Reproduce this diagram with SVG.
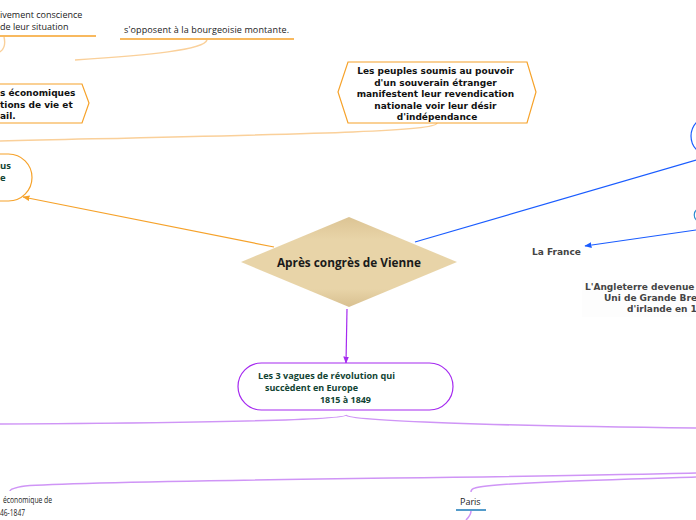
<svg xmlns="http://www.w3.org/2000/svg" width="696" height="520" viewBox="0 0 696 520">
<defs>
<style>
.bold9{font-family:"DejaVu Sans",Verdana,sans-serif;font-weight:bold;font-size:9px;fill:#111}
.plain{font-family:"Open Sans","Liberation Sans",sans-serif;font-size:9px;fill:#222}
.green{font-family:"Open Sans","Liberation Sans",sans-serif;font-weight:bold;font-size:9.5px;fill:#114433}
.gray{font-family:"DejaVu Sans",Verdana,sans-serif;font-weight:bold;font-size:9px;fill:#444}
.or{fill:none;stroke:#f6a22a;stroke-width:1.2}
.orf{fill:none;stroke:#fad09a;stroke-width:1.5}
.bl{fill:none;stroke:#1a5cff;stroke-width:1.2}
.pu{fill:none;stroke:#a52af0;stroke-width:1.2}
.puf{fill:none;stroke:#cf95f6;stroke-width:1.5}
</style>
<marker id="aO" viewBox="0 0 10 10" refX="9" refY="5" markerWidth="6" markerHeight="6" orient="auto"><path d="M0,1 L10,5 L0,9 z" fill="#f6a22a"/></marker>
<marker id="aB" viewBox="0 0 10 10" refX="9" refY="5" markerWidth="6" markerHeight="6" orient="auto"><path d="M0,1 L10,5 L0,9 z" fill="#1a5cff"/></marker>
<marker id="aP" viewBox="0 0 10 10" refX="9" refY="5" markerWidth="6" markerHeight="6" orient="auto"><path d="M0,1 L10,5 L0,9 z" fill="#a52af0"/></marker>
<linearGradient id="dg" x1="0" y1="0" x2="0" y2="1"><stop offset="0" stop-color="#dcc494"/><stop offset="0.25" stop-color="#e8d4a8"/><stop offset="0.8" stop-color="#e8d4a8"/><stop offset="1" stop-color="#d8c090"/></linearGradient>
</defs>
<rect width="696" height="520" fill="#fff"/>
<g id="connectors">
<path class="orf" d="M4,37 C6,45 3,50 0,52"/>
<path class="orf" d="M207,40 C204,50 150,55 75,60"/>
<path class="orf" d="M437,123 C436,132 300,134 0,141"/>
<path class="or" d="M274,247 L23,197" marker-end="url(#aO)"/>
<path class="bl" d="M415,242 L696,160"/>
<path class="bl" d="M696,230 L585,246" marker-end="url(#aB)"/>
<path class="pu" d="M347,309 L346,363" marker-end="url(#aP)"/>
<path class="puf" d="M346,415 C346,420 200,423 0,424"/>
<path class="puf" d="M346,415 C348,421 500,426 696,428"/>
<path class="puf" d="M696,473 C500,478 100,480 25,486 C12,488 10,490 10,491"/>
<path class="puf" d="M696,477 C600,480 490,483 475,488 C471,489 471,491 471,492"/>
<path class="puf" d="M471,511 C471,515 469,517 466,520"/>
</g>
<g id="n-conscience">
<text class="plain" x="0" y="18">ivement conscience</text>
<text class="plain" x="0" y="30">de leur situation</text>
<line x1="0" y1="36" x2="96" y2="36" stroke="#f6a22a" stroke-width="1.5"/>
</g>
<g id="n-bourgeoisie">
<text class="plain" x="124" y="33" textLength="165" lengthAdjust="spacing">s'opposent à la bourgeoisie montante.</text>
<line x1="120" y1="39" x2="294" y2="39" stroke="#f6a22a" stroke-width="1.5"/>
</g>
<g id="n-economiques">
<path d="M-10,84 L82,84 L89,103 L82,123 L-10,123" fill="#fff" stroke="#f6a22a" stroke-width="1.2"/>
<text class="bold9" x="0" y="96">s économiques</text>
<text class="bold9" x="0" y="108">tions de vie et</text>
<text class="bold9" x="0" y="119">ail.</text>
</g>
<g id="n-peuples">
<path d="M348,62 L527,62 L536,92 L527,123 L348,123 L338,92 Z" fill="#fff" stroke="#f6a22a" stroke-width="1.2"/>
<text class="bold9" text-anchor="middle">
<tspan x="437" y="74">Les peuples soumis au pouvoir</tspan>
<tspan x="437" y="85.5">d'un souverain étranger</tspan>
<tspan x="437" y="97">manifestent leur revendication</tspan>
<tspan x="437" y="108.5">nationale voir leur désir</tspan>
<tspan x="437" y="120">d'indépendance</tspan>
</text>
</g>
<g id="n-left-round">
<rect x="-40" y="154" width="72" height="47" rx="23.5" fill="#fff" stroke="#f6a22a" stroke-width="1.2"/>
<text class="green" x="0" y="169">us</text>
<text class="green" x="0" y="181">e</text>
</g>
<g id="n-center">
<path d="M349,217 L457,262 L349,307 L241,262 Z" fill="url(#dg)"/>
<text x="349" y="267" text-anchor="middle" font-family="'Open Sans','Liberation Sans',sans-serif" font-weight="bold" font-size="11.8" fill="#1a1a1a">Après congrès de Vienne</text>
</g>
<g id="n-right-blue">
<rect x="691" y="116" width="60" height="40" rx="20" fill="#fff" stroke="#1a5cff" stroke-width="1.2"/>
</g>
<g id="n-right-teal">
<path d="M698,209 C693,211 693,219 698,221" fill="none" stroke="#2a8ad0" stroke-width="1.2"/>
</g>
<g id="n-france">
<text class="gray" x="532" y="255">La France</text>
</g>
<g id="n-angleterre">
<rect x="582" y="280" width="114" height="37" fill="#fdfdfd"/>
<text class="gray" x="585" y="290">L'Angleterre devenue</text>
<text class="gray" x="604" y="301">Uni de Grande Bre</text>
<text class="gray" x="627" y="312">d'irlande en 1</text>
</g>
<g id="n-vagues">
<rect x="238" y="363" width="215" height="47" rx="23.5" fill="#fff" stroke="#a52af0" stroke-width="1.2"/>
<text class="green" x="258" y="379" textLength="137" lengthAdjust="spacingAndGlyphs">Les 3 vagues de révolution qui</text>
<text class="green" x="265" y="391" textLength="93" lengthAdjust="spacingAndGlyphs">succèdent en Europe</text>
<text class="green" x="320" y="403" textLength="51" lengthAdjust="spacingAndGlyphs">1815 à 1849</text>
</g>
<g id="n-crise">
<text class="plain" x="3" y="503" textLength="49" lengthAdjust="spacingAndGlyphs">économique de</text>
<text class="plain" x="0" y="516" textLength="25" lengthAdjust="spacingAndGlyphs">46-1847</text>
</g>
<g id="n-paris">
<text class="plain" x="460" y="505">Paris</text>
<line x1="456" y1="510" x2="486" y2="510" stroke="#1a7ab8" stroke-width="1.5"/>
</g>
</svg>
